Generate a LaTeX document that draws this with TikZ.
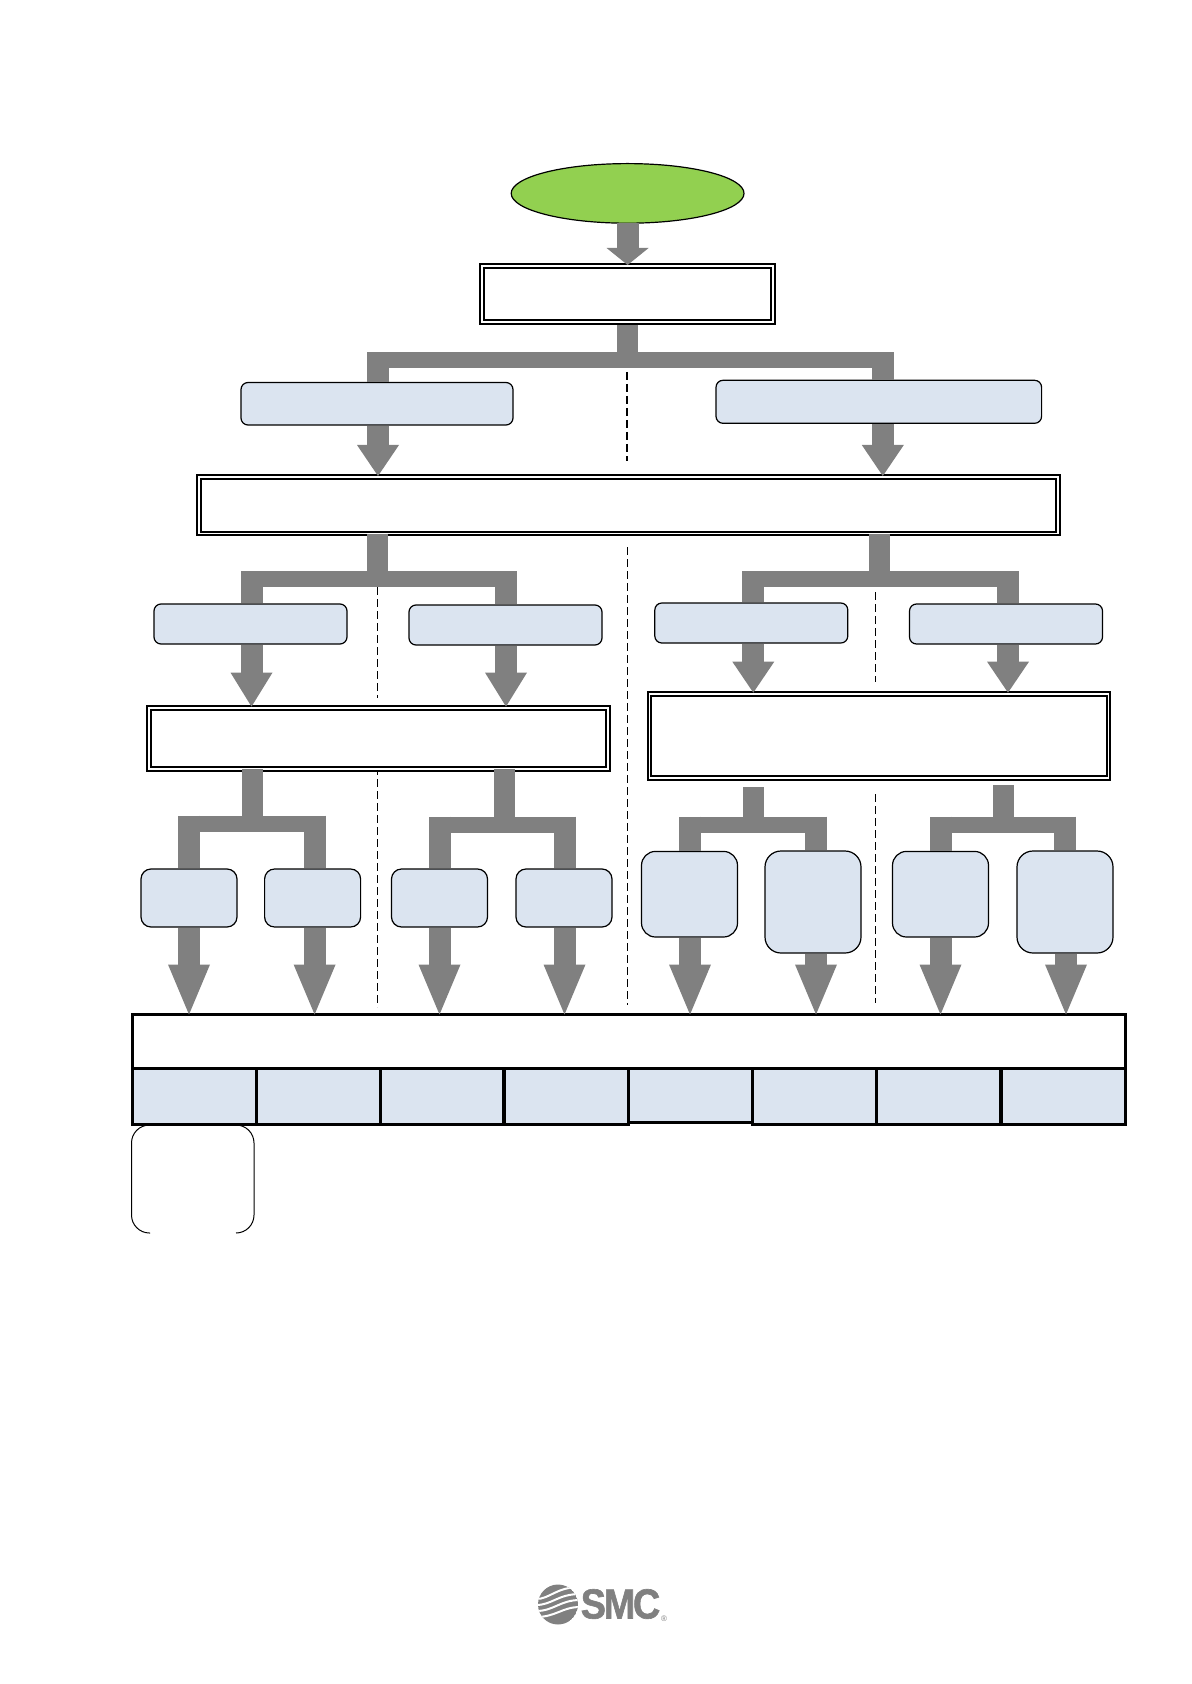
\documentclass[tikz,border=0pt]{standalone}
\usepackage{fontspec}
\setmainfont{Liberation Sans}
\newfontfamily\logofont[FakeBold=1.5,LetterSpace=-6]{Liberation Sans Bold}
\usepackage{xcolor}
\usepackage{tikz}
\usetikzlibrary{shapes}
\usetikzlibrary{arrows.meta}
\definecolor{flowgray}{HTML}{808080}
\definecolor{paleblue}{HTML}{DBE4F0}
\definecolor{startgreen}{HTML}{92D050}
\tikzset{
startnode/.style={ellipse, draw, fill=startgreen, line width=.6pt, inner sep=0pt, outer sep=0pt},
dblbox/.style={rectangle, draw, fill=white, line width=1pt, double, double distance=.9pt, inner sep=0pt, outer sep=1.5pt},
softbox/.style={rectangle, draw, fill=paleblue, line width=.6pt, inner sep=0pt, rounded corners=#1},
softbox/.default=3.5pt,
cellbox/.style={rectangle, draw, fill=paleblue, line width=1.5pt, inner sep=0pt},
headbox/.style={rectangle, draw, fill=white, line width=1.5pt, inner sep=0pt},
trunk/.style={draw=flowgray, line width=10.5pt},
bus/.style={draw=flowgray, line width=8pt},
drop/.style={draw=flowgray, line width=11pt},
flow/.style={draw=flowgray, line width=11pt, shorten >=-1pt, -{Triangle[length=#1, width=21pt, line width=0pt, fill=flowgray]}},
divider/.style={dashed, dash pattern=on 4pt off 2pt, line width=.4pt},
logoline/.style={draw=white, line width=1pt}
}
\newcommand{\flowdown}[4]{\draw[flow=#4] ([xshift=#3]#1.south) -- ([xshift=#3]#1.south |- #2.north);}
\newcommand{\branch}[6]{\draw[trunk] (#1) -- (#2);
\draw[bus] (#3 |- #2) -- (#4 |- #2);
\draw[drop] (#3) -- (#3 |- #5.north);
\draw[drop] (#4) -- (#4 |- #6.north);}
\begin{document}
\begin{tikzpicture}[x=.5pt, y=-.5pt]
\useasboundingbox[fill=white] (0,0) rectangle (1191,1684);
% dashed separators
\draw[divider, line width=.65pt] (627,372) -- (627,461);
\draw[divider] (627.5,547) -- (627.5,1005);
\draw[divider] (377,587) -- (377,698);
\draw[divider] (377,767) -- (377,1007);
\draw[divider] (875.5,592) -- (875.5,682);
\draw[divider] (875.5,794) -- (875.5,1003);
% main boxes
\node[startnode, minimum width=116.4pt, minimum height=29.8pt] (start) at (627.6,193.4) {};
\node[dblbox, minimum width=145.5pt, minimum height=28pt] (scope) at (627.5,294) {};
\node[softbox, minimum width=136pt, minimum height=21.25pt] (b1) at (377,403.75) {};
\node[softbox, minimum width=162.8pt, minimum height=21.5pt] (b2) at (878.8,401.8) {};
\node[dblbox, minimum width=429.3pt, minimum height=28.2pt] (c) at (628.3,505.2) {};
\node[softbox, minimum width=96.5pt, minimum height=20pt] (d1) at (250.5,624) {};
\node[softbox, minimum width=96.5pt, minimum height=20pt] (d2) at (505.5,625) {};
\node[softbox, minimum width=96.5pt, minimum height=20pt] (d3) at (751.3,623) {};
\node[softbox, minimum width=96.5pt, minimum height=20pt] (d4) at (1006,624) {};
\node[dblbox, minimum width=229.5pt, minimum height=30.7pt] (e1) at (378.5,738.3) {};
\node[dblbox, minimum width=229.5pt, minimum height=42.35pt] (e2) at (879,736) {};
\node[softbox=5pt, minimum width=48pt, minimum height=29pt] (f1) at (189,898) {};
\node[softbox=5pt, minimum width=48pt, minimum height=29pt] (f2) at (312.6,898) {};
\node[softbox=5pt, minimum width=48pt, minimum height=29pt] (f3) at (439.5,898) {};
\node[softbox=5pt, minimum width=48pt, minimum height=29pt] (f4) at (564,898) {};
\node[softbox=7pt, minimum width=48pt, minimum height=42.8pt] (g1) at (689.5,894.2) {};
\node[softbox=8pt, minimum width=48pt, minimum height=51pt] (g2) at (813,902) {};
\node[softbox=7pt, minimum width=48pt, minimum height=42.8pt] (g3) at (940.5,894.2) {};
\node[softbox=8pt, minimum width=48pt, minimum height=51pt] (g4) at (1065,902) {};
% table
\node[headbox, minimum width=496.5pt, minimum height=27pt] (head) at (628.5,1041) {};
\node[cellbox, minimum width=62pt, minimum height=28.3pt] (t1) at (194,1096.3) {};
\node[cellbox, minimum width=62pt, minimum height=28.3pt] (t2) at (318,1096.3) {};
\node[cellbox, minimum width=61.5pt, minimum height=28.3pt] (t3) at (442,1096.3) {};
\node[cellbox, minimum width=62pt, minimum height=28.3pt] (t4) at (566,1096.3) {};
\node[cellbox, minimum width=62.3pt, minimum height=27.2pt] (t5) at (690.3,1095.2) {};
\node[cellbox, minimum width=62pt, minimum height=28.3pt] (t6) at (814.5,1096.3) {};
\node[cellbox, minimum width=62pt, minimum height=28.3pt] (t7) at (938.5,1096.3) {};
\node[cellbox, minimum width=62pt, minimum height=28.3pt] (t8) at (1063,1096.3) {};
% open note under the first cell
\draw[line width=.5pt, rounded corners=9pt] (150,1125) -- (131.5,1125) -- (131.5,1233) -- (150,1233);
\draw[line width=.5pt, rounded corners=9pt] (236,1125) -- (254,1125) -- (254,1233) -- (236,1233);
% branch points
\coordinate (s1) at (627.5,325); \coordinate (j1) at (627.5,360);
\coordinate (l1) at (378,352.5); \coordinate (r1) at (883,352.5);
\coordinate (s2) at (377,534); \coordinate (j2) at (377,579);
\coordinate (l2) at (251.5,571); \coordinate (r2) at (505.5,571);
\coordinate (s3) at (879,534); \coordinate (j3) at (879,579);
\coordinate (l3) at (753,571); \coordinate (r3) at (1008,571);
\coordinate (s4) at (252,769); \coordinate (j4) at (252,823.5);
\coordinate (l4) at (189,815.5); \coordinate (r4) at (315,815.5);
\coordinate (s5) at (504.5,769); \coordinate (j5) at (504.5,824.5);
\coordinate (l5) at (440,816.5); \coordinate (r5) at (564.5,816.5);
\coordinate (s6) at (753,787); \coordinate (j6) at (753,824.5);
\coordinate (l6) at (690,816.5); \coordinate (r6) at (816,816.5);
\coordinate (s7) at (1003,785); \coordinate (j7) at (1003,824.5);
\coordinate (l7) at (940.5,816.5); \coordinate (r7) at (1065,816.5);
\branch{s1}{j1}{l1}{r1}{b1}{b2}
\branch{s2}{j2}{l2}{r2}{d1}{d2}
\branch{s3}{j3}{l3}{r3}{d3}{d4}
\branch{s4}{j4}{l4}{r4}{f1}{f2}
\branch{s5}{j5}{l5}{r5}{f3}{f4}
\branch{s6}{j6}{l6}{r6}{g1}{g2}
\branch{s7}{j7}{l7}{r7}{g3}{g4}
% arrows
\flowdown{start}{scope}{0pt}{8.5pt}
\flowdown{b1}{c}{.5pt}{15.5pt}
\flowdown{b2}{c}{2pt}{15.5pt}
\flowdown{d1}{e1}{.5pt}{17pt}
\flowdown{d2}{e1}{.25pt}{17pt}
\flowdown{d3}{e2}{1pt}{15.5pt}
\flowdown{d4}{e2}{1pt}{15.5pt}
\flowdown{f1}{head}{0pt}{25pt}
\flowdown{f2}{head}{1pt}{25pt}
\flowdown{f3}{head}{0pt}{25pt}
\flowdown{f4}{head}{.25pt}{25pt}
\flowdown{g1}{head}{.25pt}{25pt}
\flowdown{g2}{head}{1.5pt}{25pt}
\flowdown{g3}{head}{0pt}{25pt}
\flowdown{g4}{head}{.5pt}{25pt}
% logo
\begin{scope}
\clip (558,1604.5) circle [radius=10pt];
\fill[flowgray] (558,1604.5) circle [radius=10pt];
\draw[logoline] (536,1599) .. controls (550,1599) and (556,1587) .. (580,1587);
\draw[logoline] (536,1605) .. controls (552,1605) and (558,1594) .. (580,1594);
\draw[logoline] (536,1611) .. controls (554,1611) and (560,1600) .. (580,1600);
\draw[logoline] (536,1617) .. controls (556,1617) and (562,1607) .. (580,1607);
\end{scope}
\node[text=flowgray, font=\logofont\fontsize{21}{22}\selectfont, xscale=.9, inner sep=0pt] (logo) at (620.5,1604) {SMC};
\node[text=flowgray, font=\fontsize{4}{4}\selectfont, inner sep=0pt] (regmark) at (664,1619) {®};
\end{tikzpicture}
\end{document}
